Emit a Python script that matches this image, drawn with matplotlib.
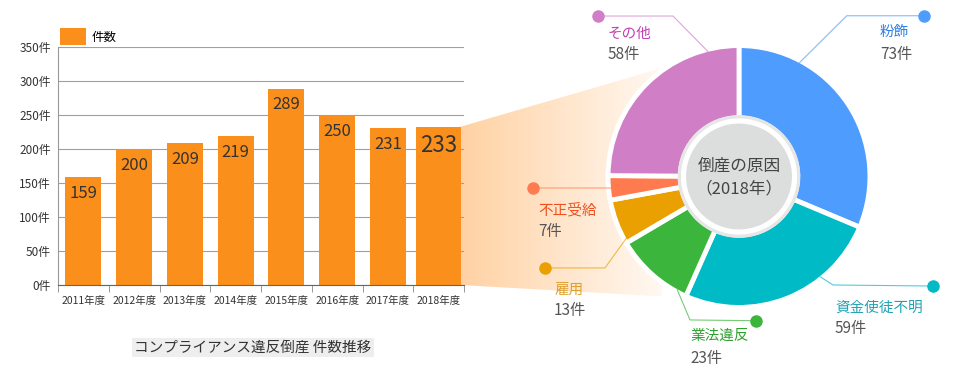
import numpy as np
import matplotlib.pyplot as plt
from matplotlib.patches import Circle, Polygon

plt.rcParams['font.family'] = ['Noto Sans CJK JP', 'DejaVu Sans']

# bar chart data
years = ['2011年度', '2012年度', '2013年度', '2014年度', '2015年度', '2016年度', '2017年度', '2018年度']
counts = [159, 200, 209, 219, 289, 250, 231, 233]
y_ticks = [0, 50, 100, 150, 200, 250, 300, 350]

# donut data (2018)
causes = ['粉飾', '資金使徒不明', '業法違反', '雇用', '不正受給', 'その他']
cause_counts = [73, 59, 23, 13, 7, 58]
slice_colors = ['#4f9cff', '#00bac6', '#3cb53c', '#eaa000', '#ff7b4f', '#d07fc6']
text_colors = ['#2e7ee6', '#1fa3b4', '#2ea22e', '#dda030', '#f24e1e', '#c23fb6']

W, H = 960, 385
fig = plt.figure(figsize=(W / 100, H / 100), dpi=100)

# background axes for the gradient "funnel" (pixel coords)
bg = fig.add_axes([0, 0, 1, 1], zorder=0)
bg.set_axis_off()

# ---- bar chart ----
ax = fig.add_axes([58 / W, 100 / H, 406 / W, 237.7 / H], zorder=1)
ax.set_facecolor('none')
x = np.arange(len(years))
widths = [0.71] * (len(years) - 1) + [0.9]
bars = ax.bar(x, counts, width=widths, color='#fb8f1b', zorder=2, label='件数')
ax.set_xlim(-0.5, len(years) - 0.5)
ax.set_ylim(0, 350)
ax.set_axisbelow(True)
ax.yaxis.grid(True, color='#a0a0a0', lw=0.8)
for s in ['top', 'right']:
    ax.spines[s].set_visible(False)
ax.spines['left'].set_color('#999999')
ax.spines['bottom'].set_color('#666666')
ax.set_yticks(y_ticks, [f'{v}件' for v in y_ticks])
ax.tick_params(axis='y', length=0, pad=5, labelsize=8.5, labelcolor='#333333')
ax.set_xticks(x, years)
ax.tick_params(axis='x', length=0, pad=8, labelsize=7.5, labelcolor='#333333')
ax.set_xticks(np.arange(-0.5, len(years), 1), minor=True)
ax.tick_params(axis='x', which='minor', length=5, color='#888888')

for i, v in enumerate(counts):
    big = i == len(counts) - 1
    ax.annotate(str(v), (x[i], v), xytext=(0, -5.5), textcoords='offset points',
                ha='center', va='top', fontsize=16 if big else 12, color='#333333')

ax.legend(loc='lower left', bbox_to_anchor=(0, 1.0), frameon=False, fontsize=9,
          handlelength=2.1, handleheight=1.8, handletextpad=0.4,
          borderpad=0, borderaxespad=0.15)

fig.text(253 / W, 1 - 347.5 / H, 'コンプライアンス違反倒産 件数推移', ha='center', va='center',
         fontsize=10.5, color='#333333',
         bbox=dict(facecolor='#eeeeee', edgecolor='none', pad=1.5))

# ---- donut ----
R = 129.0
cx, cy = 739.0, H - 176.5
pax = fig.add_axes([480 / W, 0, 480 / W, 1], zorder=2)
wedges, _ = pax.pie(cause_counts, colors=slice_colors, startangle=90, counterclock=False,
                    radius=1.015,
                    wedgeprops=dict(width=0.56, edgecolor='white', linewidth=3.5))
pax.set_xlim((480 - cx) / R, (960 - cx) / R)
pax.set_ylim((0 - cy) / R, (H - cy) / R)
pax.set_aspect('auto')
pax.set_facecolor('none')
pax.set_axis_off()

pax.add_patch(Circle((0, 0), 0.47, color='#e6e6e6', zorder=3))
pax.add_patch(Circle((0, 0), 0.445, color='white', zorder=3))
pax.add_patch(Circle((0, 0), 0.405, color='#dcdddd', zorder=3))
pax.text(0, 0.08, '倒産の原因', ha='center', va='center', fontsize=12, color='#444444', zorder=4)
pax.text(0, -0.1, '（2018年）', ha='center', va='center', fontsize=12, color='#444444', zorder=4)

# leader lines and labels (layout)
anchor_deg = [62, -51, -118.6, -151.2, -174.8, 104]
elbows = [(0.835, 1.246), (0.729, -0.841), (-0.380, -1.112), (-1.039, -0.709), (-1.0, -0.089), (-0.512, 1.244)]
dots = [(1.434, 1.246), (1.504, -0.849), (0.132, -1.118), (-1.504, -0.709), (-1.597, -0.089), (-1.093, 1.244)]
label_pos = [(1.093, 1.124, 0.942), (0.744, -1.016, -1.182), (-0.380, -1.236, -1.407),
             (-1.434, -0.880, -1.035), (-1.558, -0.264, -0.430), (-1.016, 1.109, 0.942)]

for i, name in enumerate(causes):
    a = np.deg2rad(anchor_deg[i])
    ax0, ay0 = np.cos(a), np.sin(a)
    ex, ey = elbows[i]
    dx, dy = dots[i]
    pax.plot([ax0, ex, dx], [ay0, ey, dy], color=slice_colors[i], lw=0.8, alpha=0.7, zorder=1)
    pax.plot([dx], [dy], 'o', color=slice_colors[i], ms=8, zorder=2)
    lx, l1, l2 = label_pos[i]
    pax.text(lx, l1, name, ha='left', va='center', fontsize=10.5, color=text_colors[i])
    pax.text(lx, l2, f'{cause_counts[i]}件', ha='left', va='center', fontsize=11, color='#555555')

# ---- gradient funnel from last bar to donut ----
last = bars[-1]
right = last.get_x() + last.get_width()
pts = np.array([ax.transData.transform((right - 0.02, counts[-1])),
                pax.transData.transform((-0.6, 0.84)),
                pax.transData.transform((-0.6, -0.93)),
                ax.transData.transform((right - 0.02, 0))])
poly = Polygon(pts, closed=True, facecolor='none', edgecolor='none')
bg.add_patch(poly)
n = 256
grad = np.zeros((1, n, 4))
grad[..., 0] = 1.0
grad[..., 1] = 0.78
grad[..., 2] = 0.55
grad[..., 3] = np.linspace(0.8, 0.12, n)
im = bg.imshow(grad, extent=(pts[:, 0].min(), pts[:, 0].max(), pts[:, 1].min(), pts[:, 1].max()),
               aspect='auto', origin='lower', interpolation='bilinear')
im.set_clip_path(poly)
bg.set_xlim(0, W)
bg.set_ylim(0, H)

fig.savefig('out.png', dpi=100)
